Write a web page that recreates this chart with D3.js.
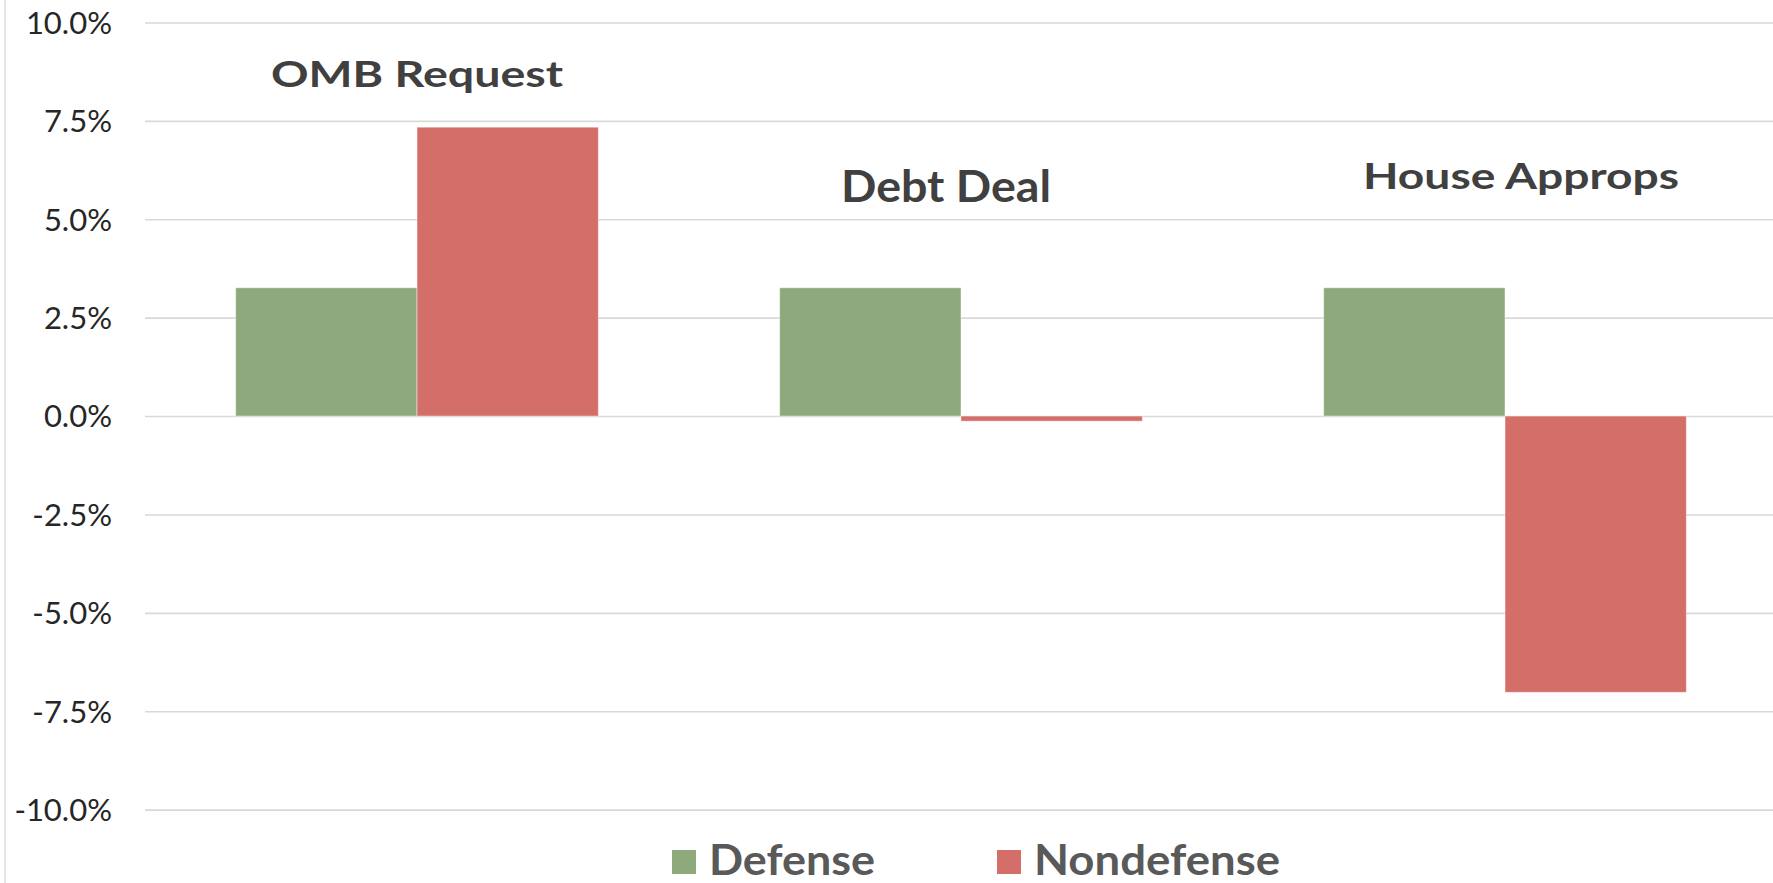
<!DOCTYPE html>
<html>
<head>
<meta charset="utf-8">
<script src="https://cdn.jsdelivr.net/npm/d3@7"></script>
<style>
  body { margin: 0; background: #fff; }
  svg { display: block; }
</style>
</head>
<body>
<script>
// data (percent change)
const categories = ["OMB Request", "Debt Deal", "House Approps"];
const seriesNames = ["Defense", "Nondefense"];
const defense = [3.26, 3.26, 3.26];
const nondefense = [7.34, -0.13, -7.02];
const tickValues = [-10, -7.5, -5, -2.5, 0, 2.5, 5, 7.5, 10];

const colors = ["#8eaa7d", "#d46e69"];

// layout
const W = 1773, H = 883;
const plot = {left: 145, right: 1777, top: 22.5, bottom: 809.6};

// category titles sit like text boxes above the groups
const labelLayout = [
  {dx: 0, y: 86.7, size: 36, len: 292},
  {dx: -15, y: 201.7, size: 44, len: 210},
  {dx: 16, y: 189.3, size: 37, len: 316}
];

const svg = d3.select("body")
    .append("svg")
    .attr("width", W)
    .attr("height", H);

// thin border on the left edge
svg.append("line")
    .attr("x1", 5).attr("x2", 5)
    .attr("y1", 0).attr("y2", H)
    .attr("stroke", "#e6e6e6")
    .attr("stroke-width", 2);

const y = d3.scaleLinear()
    .domain([-10, 10])
    .range([plot.bottom, plot.top]);

const x0 = d3.scaleBand()
    .domain(categories)
    .range([plot.left, plot.right])
    .padding(0);

const x1 = d3.scaleBand()
    .domain(seriesNames)
    .range([0, x0.bandwidth()])
    .paddingInner(0)
    .paddingOuter(0.5);

// y axis with gridlines
const yAxis = svg.append("g")
    .attr("transform", `translate(${plot.left},0)`)
    .call(d3.axisLeft(y)
        .tickValues(tickValues)
        .tickSize(-(plot.right - plot.left))
        .tickPadding(33)
        .tickFormat(d => d.toFixed(1) + "%"));

yAxis.select(".domain").remove();
yAxis.selectAll(".tick line")
    .attr("stroke", "#d9d9d9")
    .attr("stroke-width", 1.6);
yAxis.selectAll(".tick text")
    .attr("fill", "#262626")
    .attr("font-family", "Lato, 'Open Sans', sans-serif")
    .attr("font-size", 31)
    .attr("dy", "0.35em");

// bars
const rows = categories.map((c, i) => ({
  category: c,
  values: [
    {key: seriesNames[0], value: defense[i]},
    {key: seriesNames[1], value: nondefense[i]}
  ]
}));

svg.append("g")
    .selectAll("g")
    .data(rows)
    .join("g")
    .attr("transform", d => `translate(${x0(d.category)},0)`)
    .selectAll("rect")
    .data(d => d.values)
    .join("rect")
    .attr("x", d => x1(d.key))
    .attr("width", x1.bandwidth())
    .attr("y", d => y(Math.max(0, d.value)))
    .attr("height", d => Math.abs(y(d.value) - y(0)))
    .attr("fill", (d, i) => colors[i])
    .attr("stroke", "rgba(255,255,255,0.45)")
    .attr("stroke-width", 1);

// category titles
svg.append("g")
    .selectAll("text")
    .data(categories)
    .join("text")
    .attr("x", (d, i) => x0(d) + x0.bandwidth() / 2 + labelLayout[i].dx)
    .attr("y", (d, i) => labelLayout[i].y)
    .attr("text-anchor", "middle")
    .attr("font-family", "Lato, 'Open Sans', sans-serif")
    .attr("font-weight", "bold")
    .attr("font-size", (d, i) => labelLayout[i].size)
    .attr("textLength", (d, i) => labelLayout[i].len)
    .attr("lengthAdjust", "spacingAndGlyphs")
    .attr("fill", "#404040")
    .text(d => d);

// legend
const legendLayout = [
  {x: 672, textX: 709, len: 166},
  {x: 997, textX: 1034, len: 246}
];

const legend = svg.append("g")
    .selectAll("g")
    .data(seriesNames)
    .join("g");

legend.append("rect")
    .attr("x", (d, i) => legendLayout[i].x)
    .attr("y", 850)
    .attr("width", 24)
    .attr("height", 24)
    .attr("fill", (d, i) => colors[i]);

legend.append("text")
    .attr("x", (d, i) => legendLayout[i].textX)
    .attr("y", 875)
    .attr("font-family", "Lato, 'Open Sans', sans-serif")
    .attr("font-weight", "bold")
    .attr("font-size", 42)
    .attr("textLength", (d, i) => legendLayout[i].len)
    .attr("lengthAdjust", "spacingAndGlyphs")
    .attr("fill", "#595959")
    .text(d => d);
</script>
</body>
</html>
